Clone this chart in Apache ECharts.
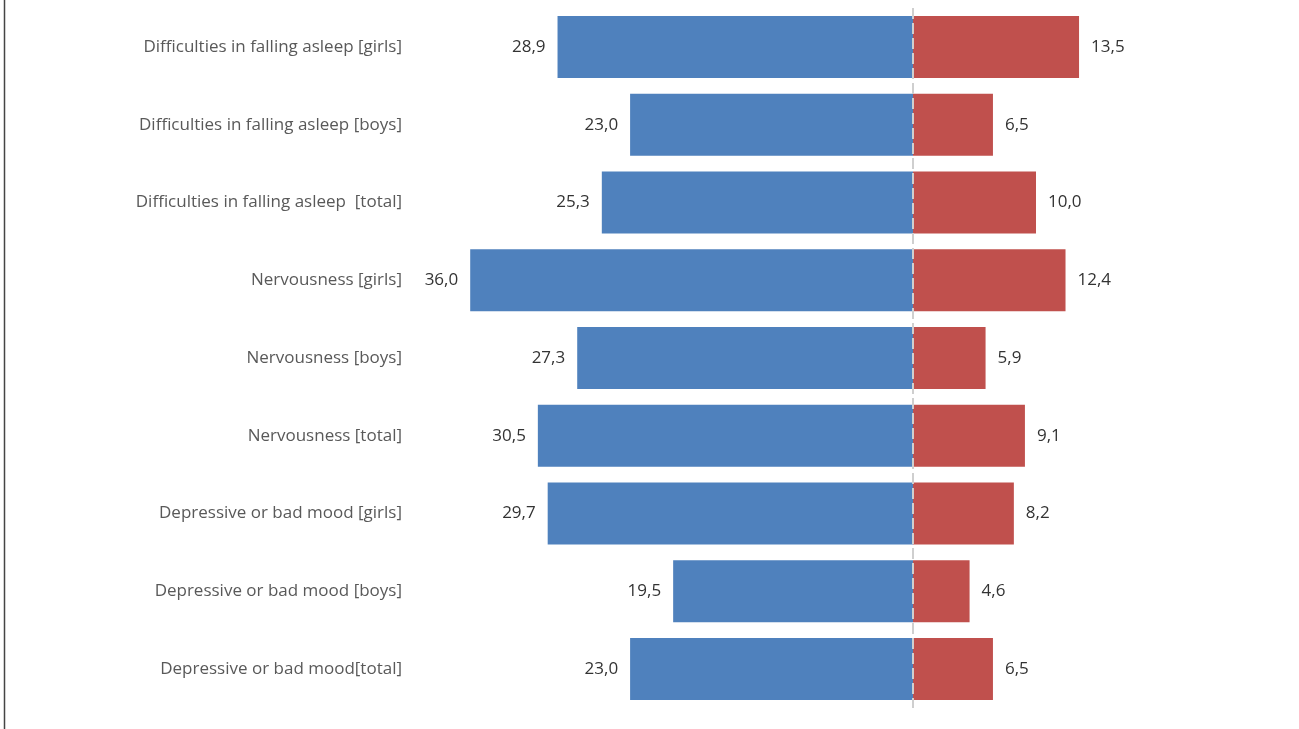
<!DOCTYPE html>
<html>
<head>
<meta charset="utf-8">
<script src="https://cdn.jsdelivr.net/npm/echarts@6/dist/echarts.min.js"></script>
<style>
html,body{margin:0;padding:0;background:#fff;}
#chart{width:1299px;height:729px;}
</style>
</head>
<body>
<div id="chart"></div>
<script>
const categories = [
  'Difficulties in falling asleep [girls]',
  'Difficulties in falling asleep [boys]',
  'Difficulties in falling asleep  [total]',
  'Nervousness [girls]',
  'Nervousness [boys]',
  'Nervousness [total]',
  'Depressive or bad mood [girls]',
  'Depressive or bad mood [boys]',
  'Depressive or bad mood[total]'
];
const blueValues = [28.9, 23.0, 25.3, 36.0, 27.3, 30.5, 29.7, 19.5, 23.0];
const redValues = [13.5, 6.5, 10.0, 12.4, 5.9, 9.1, 8.2, 4.6, 6.5];

const fmt = v => Math.abs(v).toFixed(1).replace('.', ',');
const font = '"Open Sans", "Liberation Sans", sans-serif';

const chart = echarts.init(document.getElementById('chart'));
chart.setOption({
  animation: false,
  backgroundColor: '#fff',
  grid: { left: 421, width: 738, top: 8, height: 700, containLabel: false },
  xAxis: {
    type: 'value', min: -40, max: 20, show: false
  },
  yAxis: {
    type: 'category', data: categories, inverse: true,
    axisLine: { show: false }, axisTick: { show: false },
    axisLabel: { color: '#595959', fontSize: 17, fontFamily: font, margin: 19 }
  },
  graphic: [{
    type: 'line', shape: { x1: 4.5, y1: 0, x2: 4.5, y2: 729 },
    style: { stroke: '#444', lineWidth: 1.5 }
  }],
  series: [
    {
      type: 'bar', barWidth: 62, barGap: '-100%',
      data: blueValues.map(v => -v),
      itemStyle: { color: '#4F81BD' },
      label: {
        show: true, position: 'left', distance: 12,
        color: '#333', fontSize: 17, fontFamily: font,
        formatter: p => fmt(p.value)
      }
    },
    {
      type: 'bar', barWidth: 62, barGap: '-100%',
      data: redValues,
      itemStyle: { color: '#C0504D' },
      label: {
        show: true, position: 'right', distance: 12,
        color: '#333', fontSize: 17, fontFamily: font,
        formatter: p => fmt(p.value)
      },
      markLine: {
        silent: true, symbol: 'none', label: { show: false },
        lineStyle: { color: '#cfcfcf', type: [11, 4], width: 2 },
        data: [{ xAxis: 0 }]
      }
    }
  ]
});
</script>
</body>
</html>
